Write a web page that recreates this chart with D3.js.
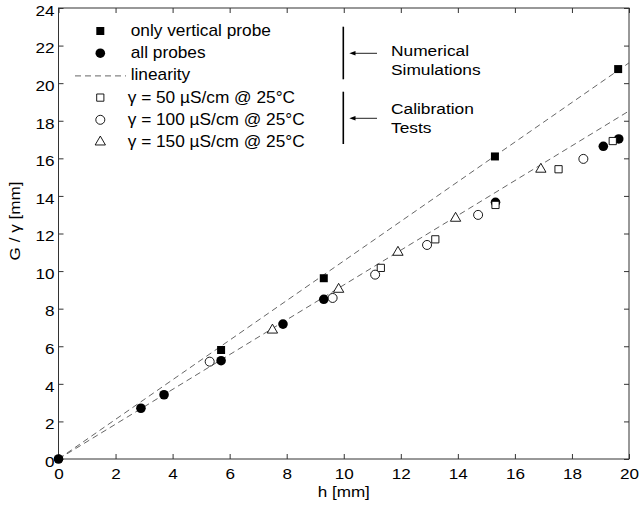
<!DOCTYPE html>
<html>
<head>
<meta charset="utf-8">
<script src="https://cdn.jsdelivr.net/npm/d3@7"></script>
<style>
  html, body { margin: 0; padding: 0; background: #fff; }
  svg { display: block; font-family: "Liberation Sans", Arial, Helvetica, sans-serif; }
</style>
</head>
<body>
<svg id="chart" width="641" height="507"></svg>
<script>
// ---- data ----
const vertX = [5.70, 9.30, 15.30, 19.62];
const vertY = [5.80, 9.62, 16.10, 20.75];

const allX = [0, 2.89, 3.70, 5.70, 7.87, 9.30, 15.32, 19.10, 19.64];
const allY = [0, 2.70, 3.42, 5.23, 7.18, 8.50, 13.66, 16.64, 17.03];

const g50X = [11.30, 13.21, 15.32, 17.53, 19.43];
const g50Y = [10.17, 11.69, 13.52, 15.42, 16.92];

const g100X = [5.30, 9.61, 11.10, 12.92, 14.71, 18.40];
const g100Y = [5.18, 8.57, 9.81, 11.39, 12.99, 15.97];

const g150X = [7.50, 9.82, 11.90, 13.92, 16.91];
const g150Y = [6.86, 9.03, 11.00, 12.81, 15.42];

// linearity lines: start and end points (h, G/γ)
const linUpperX = [0, 20];
const linUpperY = [0, 21.08];
const linLowerX = [0, 20];
const linLowerY = [0, 18.52];

const xTicks = [0, 2, 4, 6, 8, 10, 12, 14, 16, 18, 20];
const yTicks = [0, 2, 4, 6, 8, 10, 12, 14, 16, 18, 20, 22, 24];

const legendLabels = ["only vertical probe", "all probes", "linearity",
  "γ = 50 µS/cm @ 25°C", "γ = 100 µS/cm @ 25°C", "γ = 150 µS/cm @ 25°C"];
const noteLabels = [["Numerical", "Simulations"], ["Calibration", "Tests"]];

// ---- layout ----
const svg = d3.select("#chart");
const L = 58.5, R = 629, T = 8, B = 459;
const x = d3.scaleLinear().domain([0, 20]).range([L, R]);
const y = d3.scaleLinear().domain([0, 24]).range([B, T]);
const axisColor = "#333";
const SX = 1.18; // horizontal text stretch seen in the reference

const zip = (xs, ys) => xs.map((v, i) => ({x: v, y: ys[i]}));

// clip
svg.append("defs").append("clipPath").attr("id", "clip")
  .append("rect").attr("x", L).attr("y", T).attr("width", R - L).attr("height", B - T);

// frame
svg.append("rect").attr("x", L).attr("y", T).attr("width", R - L).attr("height", B - T)
  .attr("fill", "none").attr("stroke", axisColor).attr("stroke-width", 1);

// axes
function styleAxis(g) {
  g.select(".domain").remove();
  g.selectAll(".tick line").attr("stroke", axisColor);
  g.selectAll(".tick text").attr("fill", "#000").attr("font-size", 14.5)
    .attr("font-family", "'Liberation Sans', Arial, sans-serif");
}
const gx = svg.append("g").attr("transform", `translate(0,${B})`)
  .call(d3.axisBottom(x).tickValues(xTicks).tickFormat(d3.format("d"))
    .tickSizeInner(-5).tickSizeOuter(0).tickPadding(10));
styleAxis(gx);
gx.selectAll(".tick text").attr("transform", `scale(${SX},1)`);
const gy = svg.append("g").attr("transform", `translate(${L},0)`)
  .call(d3.axisLeft(y).tickValues(yTicks).tickFormat(d3.format("d"))
    .tickSizeInner(-5).tickSizeOuter(0).tickPadding(4));
styleAxis(gy);
gy.selectAll(".tick text").attr("dy", "0.5em").attr("x", -4 / SX)
  .attr("transform", `scale(${SX},1)`);
// top and right ticks
svg.append("g").attr("transform", `translate(0,${T})`)
  .call(d3.axisTop(x).tickValues(xTicks).tickFormat("").tickSizeInner(-5).tickSizeOuter(0))
  .call(styleAxis);
svg.append("g").attr("transform", `translate(${R},0)`)
  .call(d3.axisRight(y).tickValues(yTicks).tickFormat("").tickSizeInner(-5).tickSizeOuter(0))
  .call(styleAxis);

// axis titles
svg.append("text").attr("transform", `translate(${x(10)},497) scale(${SX},1)`)
  .attr("text-anchor", "middle").attr("font-size", 14.5).text("h [mm]");
svg.append("text").attr("transform", `translate(20,${221}) rotate(-90) scale(${SX},1)`)
  .attr("text-anchor", "middle").attr("font-size", 14.5).text("G / γ [mm]");

// linearity lines
const lineGen = d3.line().x(d => x(d.x)).y(d => y(d.y));
const plot = svg.append("g").attr("clip-path", "url(#clip)");
[zip(linUpperX, linUpperY), zip(linLowerX, linLowerY)].forEach(pts => {
  plot.append("path").datum(pts).attr("d", lineGen)
    .attr("fill", "none").attr("stroke", "#555").attr("stroke-width", 0.9)
    .attr("stroke-dasharray", "6,4");
});

// markers
const markers = {
  vert: {type: d3.symbolSquare, size: 64, fill: "#000", stroke: "none"},
  all:  {type: d3.symbolCircle, size: Math.PI * 4.8 * 4.8, fill: "#000", stroke: "none"},
  g50:  {type: d3.symbolSquare, size: 52, fill: "#fff", stroke: "#000"},
  g100: {type: d3.symbolCircle, size: Math.PI * 4.5 * 4.5, fill: "#fff", stroke: "#000"},
  g150: {type: d3.symbolTriangle, size: 46, fill: "#fff", stroke: "#000"}
};
function drawSeries(g, pts, m) {
  g.selectAll(null).data(pts).enter().append("path")
    .attr("d", d3.symbol().type(m.type).size(m.size))
    .attr("transform", d => `translate(${x(d.x)},${y(d.y)})`)
    .attr("fill", m.fill).attr("stroke", m.stroke).attr("stroke-width", 0.9);
}
const mg = svg.append("g");
drawSeries(mg, zip(vertX, vertY), markers.vert);
drawSeries(mg, zip(allX, allY), markers.all);
drawSeries(mg, zip(g50X, g50Y), markers.g50);
drawSeries(mg, zip(g100X, g100Y), markers.g100);
drawSeries(mg, zip(g150X, g150Y), markers.g150);

// legend
const lgX = 100.3;
const lgBase = [36, 58.2, 80.4, 102.6, 124.8, 147];
const lgSym = [markers.vert, markers.all, null, markers.g50, markers.g100, markers.g150];
const lgTextX = [130.7, 130.7, 130.7, 127.7, 127.7, 127.7];
legendLabels.forEach((lab, i) => {
  const cy = lgBase[i] - 5;
  if (lgSym[i]) {
    const m = lgSym[i];
    svg.append("path").attr("d", d3.symbol().type(m.type).size(m.size))
      .attr("transform", `translate(${lgX},${cy})`)
      .attr("fill", m.fill).attr("stroke", m.stroke).attr("stroke-width", 0.9);
  } else {
    svg.append("line").attr("x1", 75).attr("x2", 126).attr("y1", cy + 0.5).attr("y2", cy + 0.5)
      .attr("stroke", "#555").attr("stroke-width", 0.9).attr("stroke-dasharray", "6,4");
  }
  svg.append("text").attr("transform", `translate(${lgTextX[i]},${lgBase[i]}) scale(1.08,1)`)
    .attr("font-size", 16).text(lab);
});

// annotation brackets and arrows
const notes = [
  {y1: 26.7, y2: 79.3, ay: 53.3, base: [56, 75]},
  {y1: 91.7, y2: 144, ay: 118.3, base: [114.3, 133.3]}
];
notes.forEach((n, i) => {
  svg.append("line").attr("x1", 343.3).attr("x2", 343.3).attr("y1", n.y1).attr("y2", n.y2)
    .attr("stroke", "#000").attr("stroke-width", 1.6);
  svg.append("line").attr("x1", 377).attr("x2", 354).attr("y1", n.ay).attr("y2", n.ay)
    .attr("stroke", "#222").attr("stroke-width", 1);
  svg.append("path")
    .attr("d", `M349.3,${n.ay} L355.5,${n.ay - 2.3} L355.5,${n.ay + 2.3} Z`)
    .attr("fill", "#000");
  noteLabels[i].forEach((t, j) => {
    svg.append("text").attr("transform", `translate(391,${n.base[j]}) scale(1.12,1)`)
      .attr("font-size", 15.5).text(t);
  });
});
</script>
</body>
</html>
